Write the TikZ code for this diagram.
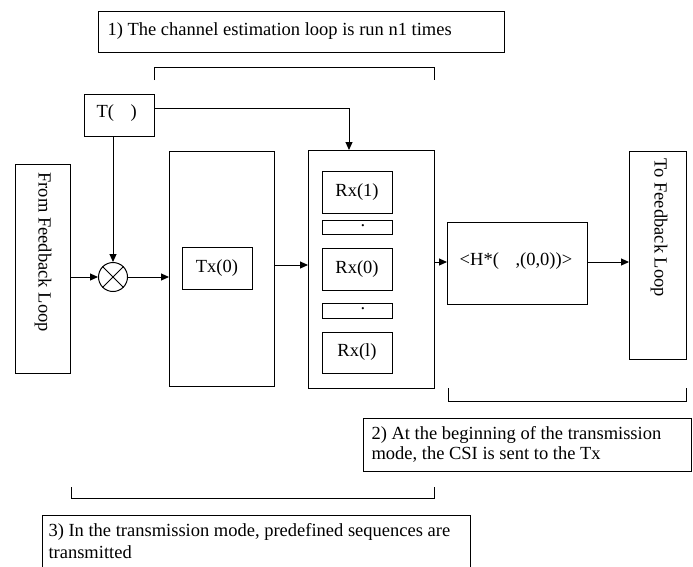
\documentclass[tikz,border=0pt]{standalone}
\usepackage{fontspec}
\setmainfont{Liberation Serif}
\usetikzlibrary{arrows.meta}
\begin{document}
\begin{tikzpicture}[x=1pt,y=-1pt,
  line width=1pt,
  box/.style={draw},
  lbl/.style={font=\fontsize{18.5}{21}\selectfont, inner sep=0pt},
  arr/.style={-{Triangle[length=8pt,width=7pt]}}]
\useasboundingbox (0,0) rectangle (693,566);
\clip (0,0) rectangle (693,566);

% note 1 and its bracket
\draw[box] (98,11) rectangle (504,52);
\node[lbl, anchor=west] (n1) at (107,31) {1) The channel estimation loop is run n1 times};
\draw (154,80) -- (154,67) -- (434,67) -- (434,80);

% T( ) block
\draw[box] (84,94) rectangle (154,136);
\node[lbl, anchor=west] (T) at (96,113) {T(\hspace{0.9em})};
\coordinate (Tr) at (154,108);
\coordinate (Tb) at (113,136);

% feedback input block
\draw[box] (15,164) rectangle (70,373);
\node[lbl, rotate=-90, anchor=west] (ffl) at (43,172) {From Feedback Loop};
\coordinate (fflr) at (70,277);

% multiplier
\node[draw, circle, minimum size=29pt, inner sep=0pt] (mul) at (113,277) {};
\draw (mul.north west) -- (mul.south east);
\draw (mul.north east) -- (mul.south west);

% transmitter block
\draw[box] (169,151) rectangle (274,386);
\draw[box] (182,247) rectangle (252,289);
\node[lbl] (tx) at (217,268) {Tx(0)};
\coordinate (txl) at (169,277);
\coordinate (txr) at (274,265);

% receiver block
\draw[box] (308,150) rectangle (434,388);
\coordinate (rxin) at (308,265);
\coordinate (rxt) at (349,150);
\coordinate (rxout) at (434,262);
\draw[box] (322,171) rectangle (392,213);
\node[lbl] (rxa) at (357,192) {Rx(1)};
\draw[box] (322,220) rectangle (392,234);
\node[lbl] (d1) at (363,226) {.};
\draw[box] (322,248) rectangle (392,290);
\node[lbl] (rxb) at (357,269) {Rx(0)};
\draw[box] (322,303) rectangle (392,318);
\node[lbl] (d2) at (363,309) {.};
\draw[box] (322,332) rectangle (392,373);
\node[lbl] (rxc) at (357,352) {Rx(l)};

% correlation block
\draw[box] (447,222) rectangle (587,304);
\node[lbl] (H) at (516,261) {<H*(\hspace{0.9em},(0,0))>};
\coordinate (Hl) at (447,262);
\coordinate (Hr) at (587,262);

% feedback output block
\draw[box] (629,151) rectangle (686,359);
\node[lbl, rotate=-90, anchor=west] (tfl) at (659,158) {To Feedback Loop};
\coordinate (tfll) at (629,262);

% connectors
\draw[arr] (Tb) -- (mul.north);
\draw[arr] (Tr) -| (rxt);
\draw[arr] (fflr) -- (mul.west);
\draw[arr] (mul.east) -- (txl);
\draw[arr] (txr) -- (rxin);
\draw[arr] (rxout) -- (Hl);
\draw[arr] (Hr) -- (tfll);

% note 2 and its bracket
\draw (448,388) -- (448,401) -- (686,401) -- (686,388);
\draw[box] (363,418) rectangle (691,471);
\node[lbl, anchor=north west, align=left,
      font=\fontsize{18.5}{20}\selectfont] (n2) at (371,426)
  {2) At the beginning of the transmission\\mode, the CSI is sent to the Tx};

% note 3 and its bracket
\draw (71,487) -- (71,498) -- (434,498) -- (434,487);
\draw[box] (42,515) rectangle (470,580);
\node[lbl, anchor=north west, align=left,
      font=\fontsize{18.5}{22}\selectfont] (n3) at (48,523)
  {3) In the transmission mode, predefined sequences are\\transmitted};
\end{tikzpicture}
\end{document}
